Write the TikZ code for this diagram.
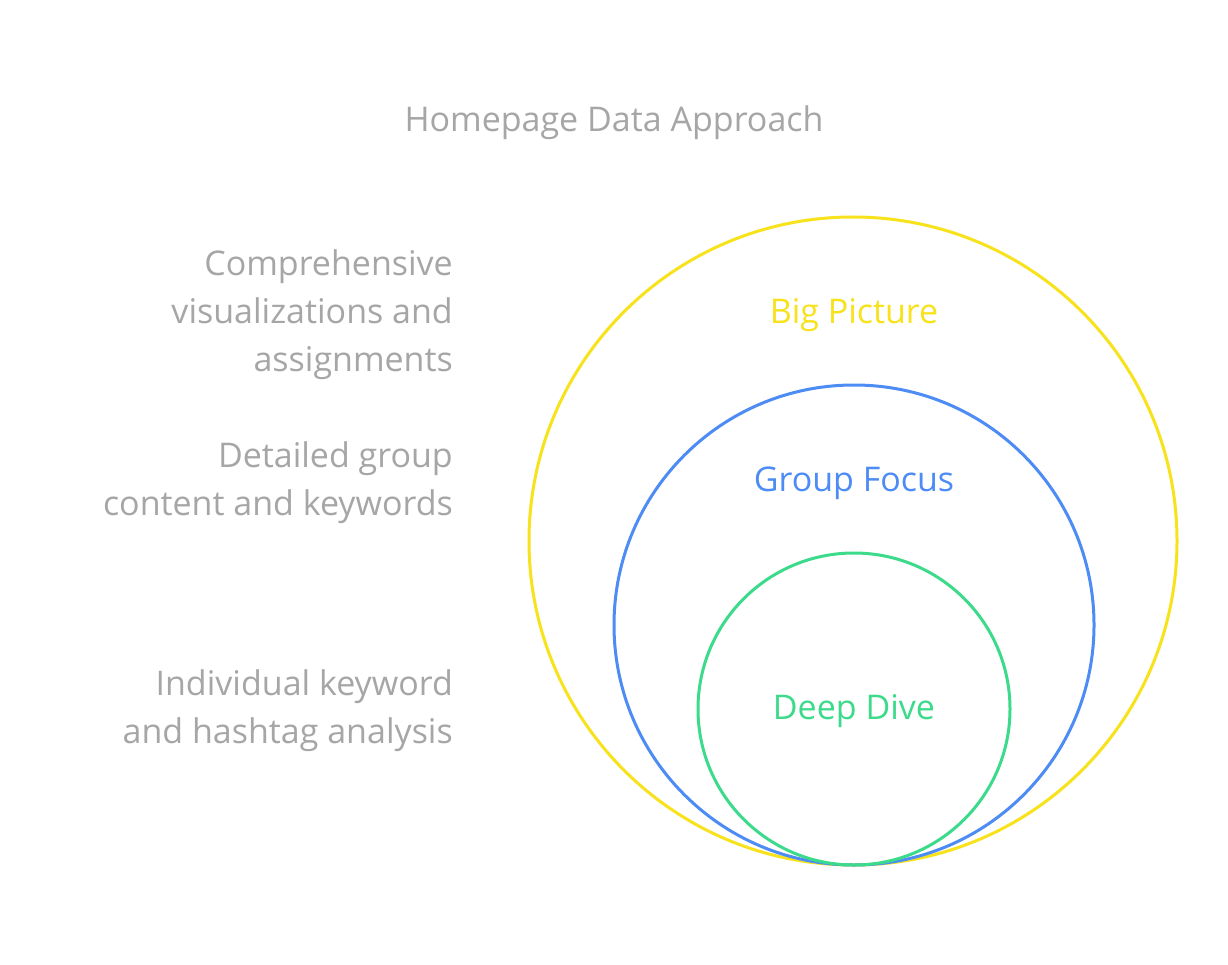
\documentclass[tikz,border=0pt]{standalone}
\usepackage{fontspec}
\setmainfont{Open Sans}
\definecolor{txtgray}{HTML}{A6A6A6}
\definecolor{cyel}{HTML}{F7E21B}
\definecolor{cblue}{HTML}{4D8BF5}
\definecolor{cgreen}{HTML}{3CDB8C}
\begin{document}
\begin{tikzpicture}[x=1pt,y=-1pt,
  ring/.style={line width=3pt},
  lbl/.style={font=\fontsize{34}{48}\selectfont,text=txtgray,align=right,anchor=east,inner sep=0pt},
  ctext/.style={font=\fontsize{34}{40}\selectfont,inner sep=0pt}]
\useasboundingbox[fill=white] (0,0) rectangle (1228,965);
\node[ctext,text=txtgray] (title) at (614,123) {Homepage Data Approach};
\node[ring,draw=cyel,circle,minimum size=648pt,inner sep=0pt] (big) at (853,541) {};
\node[ring,draw=cblue,circle,minimum size=480pt,inner sep=0pt] (grp) at (854,625) {};
\node[ring,draw=cgreen,circle,minimum size=312pt,inner sep=0pt] (deep) at (854,709) {};
\node[ctext,text=cyel] (bigl) at (854,315) {Big Picture};
\node[ctext,text=cblue] (grpl) at (854,483) {Group Focus};
\node[ctext,text=cgreen] (deepl) at (854,711) {Deep Dive};
\node[lbl] (l1) at (453,315) {Comprehensive\\visualizations and\\assignments};
\node[lbl] (l2) at (453,483) {Detailed group\\content and keywords};
\node[lbl] (l3) at (453,711) {Individual keyword\\and hashtag analysis};
\end{tikzpicture}
\end{document}
